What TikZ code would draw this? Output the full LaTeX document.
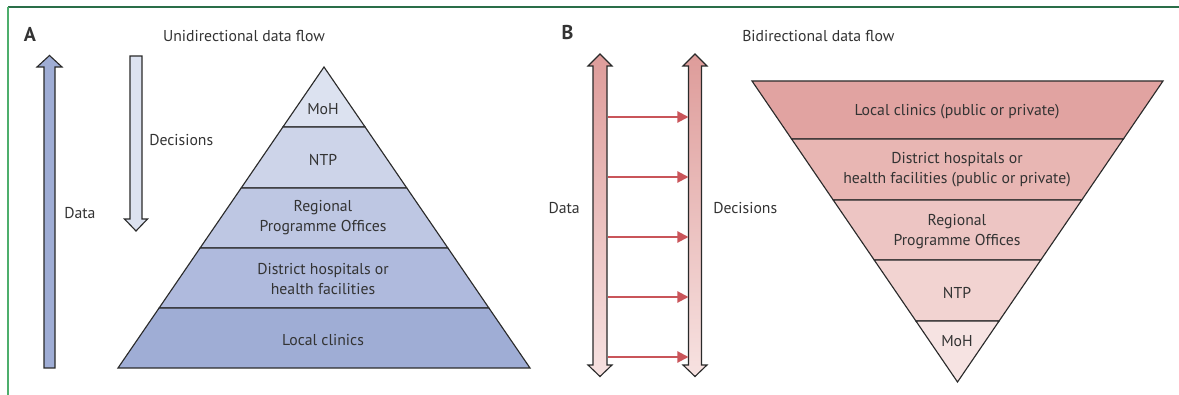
\documentclass[tikz,border=0pt]{standalone}
\usepackage{fontspec}
\setmainfont{PT Sans}
\usetikzlibrary{arrows.meta,calc}
\definecolor{txt}{HTML}{333333}
\definecolor{linec}{HTML}{2A2A2A}
\definecolor{frametop}{HTML}{2A6E48}
\definecolor{frameleft}{HTML}{4DAE6C}
\definecolor{bA}{HTML}{DCE2F0}
\definecolor{bB}{HTML}{CDD4E9}
\definecolor{bC}{HTML}{BEC7E3}
\definecolor{bD}{HTML}{AFBADD}
\definecolor{bE}{HTML}{9FADD5}
\definecolor{rA}{HTML}{E1A3A1}
\definecolor{rB}{HTML}{E8B6B3}
\definecolor{rC}{HTML}{EDC5C3}
\definecolor{rD}{HTML}{F2D3D1}
\definecolor{rE}{HTML}{F6E3E2}
\definecolor{gradtop}{HTML}{DE9C9A}
\definecolor{gradbot}{HTML}{F7E2E1}
\definecolor{hzred}{HTML}{C9555A}
\tikzset{
  outline/.style={draw=linec, line width=0.85pt, line join=miter},
  lbl/.style={text=txt, inner sep=0pt},
  layerlbl/.style={lbl, align=center},
  panel/.style={text=txt, inner sep=0pt, font=\fontsize{15}{17}\selectfont\bfseries},
  dblarrow/.style={outline, top color=gradtop, bottom color=gradbot},
  hzarrow/.style={draw=hzred, line width=1.5pt, -{Triangle[length=8.3pt,width=8.3pt]}},
}
\begin{document}
\begin{tikzpicture}[x=0.75pt,y=-0.75pt,font=\fontsize{11.8}{15}\selectfont]
\useasboundingbox (0,0) rectangle (1179,395);
% frame
\draw[frametop, line width=1pt] (8,7) -- (1179,7);
\draw[frameleft, line width=1pt] (8,7) -- (8,395);

% ---------- Panel A ----------
\node[panel] (A) at (30,34) {A};
\node[lbl] (titleA) at (244,36) {Unidirectional data flow};

% data arrow (up)
\path[outline, fill=bE] (44,368) -- (44,67) -- (37,67) -- (49.5,55.5) -- (62,67) -- (55,67) -- (55,368) -- cycle;
\node[lbl, anchor=west] (dataA) at (64,213) {Data};
% decisions arrow (down)
\path[outline, fill=bA] (130,56) -- (142,56) -- (142,219) -- (147.5,219) -- (136,231) -- (124.5,219) -- (130,219) -- cycle;
\node[lbl, anchor=west] (decA) at (149,140) {Decisions};

% pyramid
\path[outline, fill=bA] (324,67) -- (365.1,127) -- (282.9,127) -- cycle;
\path[outline, fill=bB] (282.9,127) -- (365.1,127) -- (406.8,188) -- (241.2,188) -- cycle;
\path[outline, fill=bC] (241.2,188) -- (406.8,188) -- (447.9,248) -- (200.1,248) -- cycle;
\path[outline, fill=bD] (200.1,248) -- (447.9,248) -- (488.9,308) -- (159.1,308) -- cycle;
\path[outline, fill=bE] (159.1,308) -- (488.9,308) -- (530,368) -- (118,368) -- cycle;
\node[layerlbl] (pA1) at (323,109) {MoH};
\node[layerlbl] (pA2) at (323,160) {NTP};
\node[layerlbl] (pA3) at (323,218) {Regional\\Programme Offices};
\node[layerlbl] (pA4) at (323,279) {District hospitals or\\health facilities};
\node[layerlbl] (pA5) at (323,340) {Local clinics};

% ---------- Panel B ----------
\node[panel] (B) at (567.5,33) {B};
\node[lbl, anchor=west] (titleB) at (742,36) {Bidirectional data flow};

% double arrows
\path[dblarrow] (593,66) -- (588,66) -- (600,54) -- (612,66) -- (607,66) -- (607,365) -- (612,365) -- (600,376.5) -- (588,365) -- (593,365) -- cycle;
\path[dblarrow] (688.5,66) -- (683,66) -- (695,54) -- (707,66) -- (701.5,66) -- (701.5,365) -- (707,365) -- (695,376.5) -- (683,365) -- (688.5,365) -- cycle;
\node[lbl, anchor=east] (dataB) at (580,208) {Data};
\node[lbl, anchor=west] (decB) at (713,208) {Decisions};

\foreach \i/\yy in {1/117,2/177,3/237,4/297,5/357}{
  \coordinate (hs\i) at (608,\yy);
  \coordinate (he\i) at (688.5,\yy);
  \draw[hzarrow] (hs\i) -- (he\i);
}

% inverted pyramid
\path[outline, fill=rA] (752,81) -- (1163,81) -- (1123.4,139) -- (791.6,139) -- cycle;
\path[outline, fill=rB] (791.6,139) -- (1123.4,139) -- (1081.8,200) -- (833.2,200) -- cycle;
\path[outline, fill=rC] (833.2,200) -- (1081.8,200) -- (1040.8,260) -- (874.2,260) -- cycle;
\path[outline, fill=rD] (874.2,260) -- (1040.8,260) -- (999.1,321) -- (915.9,321) -- cycle;
\path[outline, fill=rE] (915.9,321) -- (999.1,321) -- (957.5,382) -- cycle;
\node[layerlbl] (pB1) at (957,112) {Local clinics (public or private)};
\node[layerlbl] (pB2) at (957,170) {District hospitals or\\health facilities (public or private)};
\node[layerlbl] (pB3) at (957,231.5) {Regional\\Programme Offices};
\node[layerlbl] (pB4) at (957,293) {NTP};
\node[layerlbl] (pB5) at (957,341) {MoH};
\end{tikzpicture}
\end{document}
